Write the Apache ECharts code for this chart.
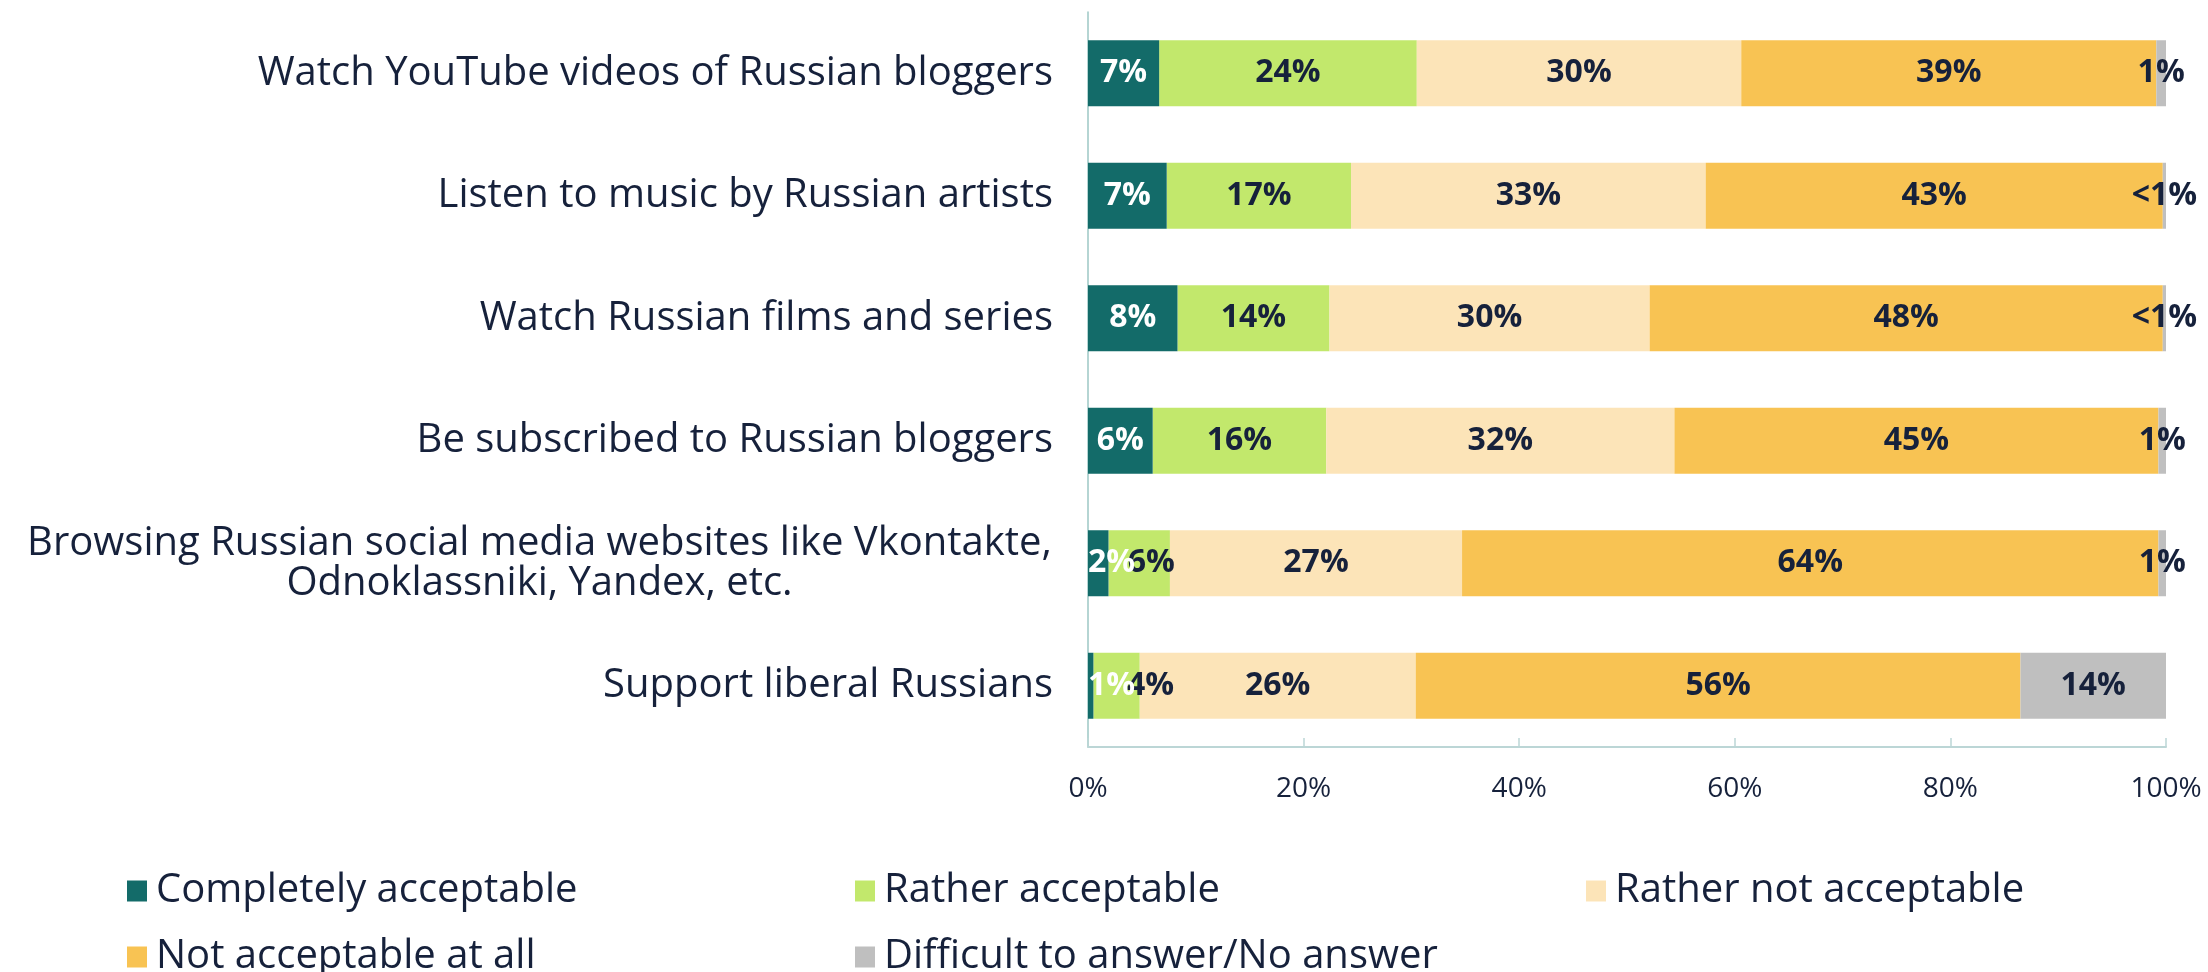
<!DOCTYPE html>
<html><head><meta charset="utf-8">
<script src="https://cdn.jsdelivr.net/npm/echarts@6/dist/echarts.min.js"></script>
<style>html,body{margin:0;padding:0;background:#fff}#c{width:2208px;height:972px}</style>
</head><body><div id="c"></div>
<script>
const categories = [
  "Watch YouTube videos of Russian bloggers",
  "Listen to music by Russian artists",
  "Watch Russian films and series",
  "Be subscribed to Russian bloggers",
  "Browsing Russian social media websites like Vkontakte,\nOdnoklassniki, Yandex, etc.",
  "Support liberal Russians"
];
const seriesNames = ["Completely acceptable","Rather acceptable","Rather not acceptable","Not acceptable at all","Difficult to answer/No answer"];
const completely = [6.6, 7.3, 8.3, 6.0, 1.9, 0.5];
const rather = [23.9, 17.1, 14.1, 16.1, 5.7, 4.3];
const ratherNot = [30.1, 32.9, 29.7, 32.3, 27.1, 25.6];
const notAtAll = [38.5, 42.4, 47.6, 44.9, 64.6, 56.1];
const difficult = [0.9, 0.3, 0.3, 0.7, 0.7, 13.5];
const completelyLbl = ["7%","7%","8%","6%","2%","1%"];
const ratherLbl = ["24%","17%","14%","16%","6%","4%"];
const ratherNotLbl = ["30%","33%","30%","32%","27%","26%"];
const notAtAllLbl = ["39%","43%","48%","45%","64%","56%"];
const difficultLbl = ["1%","<1%","<1%","1%","1%","14%"];
const xTicks = ["0%","20%","40%","60%","80%","100%"];

const FONT = "'Open Sans', 'Noto Sans', sans-serif";
const NAVY = "#16213b";
const colors = ["#136b69","#c2e86c","#fce4b8","#f8c353","#bfbfbf"];
const values = [completely, rather, ratherNot, notAtAll, difficult];
const labels = [completelyLbl, ratherLbl, ratherNotLbl, notAtAllLbl, difficultLbl];

const catFontSize = 40;
const ctx = document.createElement('canvas').getContext('2d');
ctx.font = catFontSize + "px " + FONT;
const multiW = Math.ceil(Math.max(...categories[4].split('\n').map(s => ctx.measureText(s).width))) + 2;

// label nudges to avoid overlapping neighbouring labels on thin segments
const ratherLabelShift = [0, 0, 0, 0, 12, 34];

const chart = echarts.init(document.getElementById('c'), null, {renderer:'canvas'});
const series = values.map((vals, si) => ({
  name: seriesNames[si],
  type: 'bar',
  stack: 'total',
  barWidth: 66,
  z: si === 0 ? 5 : 2,
  itemStyle: {color: colors[si]},
  label: {
    show: true,
    position: 'inside',
    fontFamily: FONT,
    fontWeight: 'bold',
    fontSize: 32,
    color: si === 0 ? '#ffffff' : NAVY,
    formatter: p => labels[si][p.dataIndex]
  },
  data: vals.map((v, i) => {
    const d = {value: v};
    if (si === 0 && v < 3) d.label = {position: 'insideLeft', distance: 0};
    if (si === 1 && ratherLabelShift[i]) d.label = {offset: [ratherLabelShift[i], 0]};
    return d;
  })
}));

const legends = seriesNames.map((n, i) => ({
  data: [n],
  left: [122, 850, 1581, 122, 850][i],
  top: [866, 866, 866, 932, 932][i],
  icon: 'rect',
  itemWidth: 20,
  itemHeight: 21,
  textStyle: {fontFamily: FONT, fontSize: catFontSize, color: NAVY, padding: [0,0,0,4]},
  selectedMode: false
}));

chart.setOption({
  animation: false,
  backgroundColor: '#fff',
  color: colors,
  grid: {left: 1088, right: 42, top: 12, bottom: 972 - 747, containLabel: false},
  legend: legends,
  xAxis: {
    type: 'value', min: 0, max: 100, interval: 20,
    axisLine: {show: true, lineStyle: {color: '#bcd6d6', width: 2}},
    axisTick: {show: true, inside: true, length: 9, lineStyle: {color: '#bcd6d6', width: 1.5}},
    splitLine: {show: false},
    axisLabel: {margin: 28, fontFamily: FONT, fontSize: 28, color: NAVY, formatter: v => xTicks[v / 20]}
  },
  yAxis: {
    type: 'category', inverse: true, data: categories,
    axisLine: {show: true, lineStyle: {color: '#9cc7c5', width: 1.5}},
    axisTick: {show: false},
    axisLabel: {
      margin: 35, fontFamily: FONT, fontSize: catFontSize, color: NAVY, lineHeight: 40,
      formatter: (v, i) => i === 4 ? v.split('\n').map(s => '{c|' + s + '}').join('\n') : v,
      rich: {c: {width: multiW, align: 'center', fontFamily: FONT, fontSize: catFontSize, color: NAVY, lineHeight: 40}}
    }
  },
  series: series
});
</script></body></html>
